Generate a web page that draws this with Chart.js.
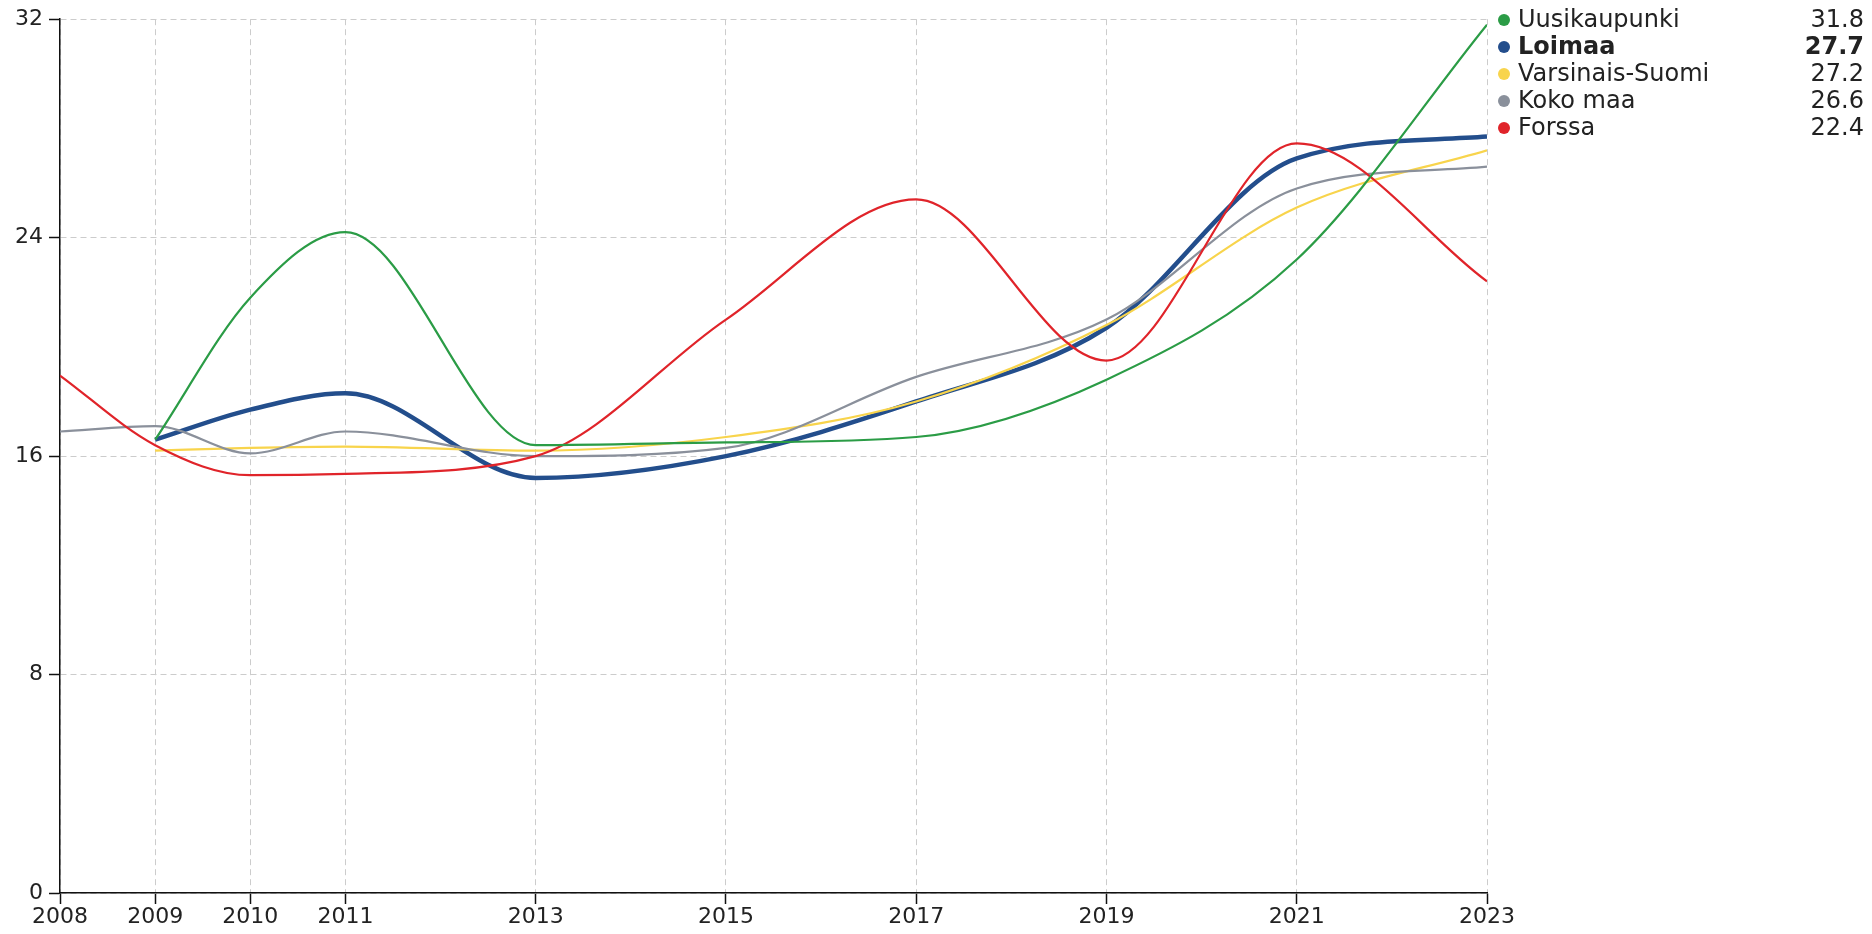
<!DOCTYPE html>
<html>
<head>
<meta charset="utf-8">
<script src="https://cdn.jsdelivr.net/npm/chart.js@4/dist/chart.umd.min.js"></script>
<style>
  html, body { margin: 0; padding: 0; background: #fff; }
  #wrap { width: 1872px; height: 934px; }
</style>
</head>
<body>
<div id="wrap"><canvas id="chart" width="1872" height="934"></canvas></div>
<script>
// Data
const years = [2008, 2009, 2010, 2011, 2013, 2015, 2017, 2019, 2021, 2023];
const yTicks = [0, 8, 16, 24, 32];

const seriesNames = ["Uusikaupunki", "Loimaa", "Varsinais-Suomi", "Koko maa", "Forssa"];
const seriesColors = ["#2b9c46", "#234e8c", "#f8d44c", "#8a909b", "#e0242a"];

const uusikaupunki = [null, 16.6, 21.8, 24.2, 16.4, 16.5, 16.7, 18.8, 23.2, 31.8];
const loimaa       = [null, 16.6, 17.7, 18.3, 15.2, 16.0, 18.0, 20.7, 26.9, 27.7];
const varsinais    = [null, 16.2, 16.3, 16.35, 16.2, 16.7, 18.0, 20.8, 25.1, 27.2];
const kokoMaa      = [16.9, 17.1, 16.1, 16.9, 16.0, 16.3, 18.9, 21.0, 25.8, 26.6];
const forssa       = [18.95, 16.4, 15.3, 15.35, 16.0, 21.0, 25.4, 19.5, 27.45, 22.4];

const seriesValues = [uusikaupunki, loimaa, varsinais, kokoMaa, forssa];
const highlighted = "Loimaa";
// drawing order: lower goes on top
const drawOrder = [0, 4, 3, 2, 1];

const FONT = "'DejaVu Sans', sans-serif";

function toPoints(vals) {
  return years.map((x, i) => ({ x: x, y: vals[i] })).filter(p => p.y !== null);
}

const datasets = seriesNames.map((name, i) => ({
  label: name,
  data: toPoints(seriesValues[i]),
  borderColor: seriesColors[i],
  backgroundColor: seriesColors[i],
  borderWidth: name === highlighted ? 4.5 : 2.2,
  pointRadius: 0,
  pointHoverRadius: 0,
  cubicInterpolationMode: "monotone",
  fill: false,
  order: drawOrder[i]
}));

// Legend on the right: dot, name, last value
const sideLegend = {
  id: "sideLegend",
  afterDraw(chart) {
    const ctx = chart.ctx;
    ctx.save();
    seriesNames.forEach((name, i) => {
      const y = 20 + i * 27;
      const bold = name === highlighted;
      ctx.fillStyle = seriesColors[i];
      ctx.beginPath();
      ctx.arc(1504, y, 6, 0, Math.PI * 2);
      ctx.fill();
      ctx.fillStyle = "#222";
      ctx.font = (bold ? "bold " : "") + "24px " + FONT;
      ctx.textBaseline = "middle";
      ctx.textAlign = "left";
      ctx.fillText(name, 1518, y + 1);
      const vals = seriesValues[i];
      const last = vals[vals.length - 1];
      ctx.textAlign = "right";
      ctx.fillText(last.toFixed(1), 1864, y + 1);
    });
    ctx.restore();
  }
};

const gridCommon = {
  color: "#cccccc",
  lineWidth: 1,
  tickColor: "#111",
  tickWidth: 1.5,
  tickLength: 11,
  tickBorderDash: []
};

new Chart(document.getElementById("chart"), {
  type: "line",
  data: { datasets: datasets },
  options: {
    responsive: false,
    animation: false,
    events: [],
    layout: { padding: { left: 0, top: 10, right: 385, bottom: 0 } },
    plugins: { legend: { display: false }, tooltip: { enabled: false } },
    scales: {
      x: {
        type: "linear",
        min: 2008,
        max: 2023,
        afterBuildTicks: s => { s.ticks = years.map(v => ({ value: v })); },
        afterFit: s => { s.height = 41; },
        ticks: {
          color: "#222",
          font: { family: FONT, size: 22 },
          padding: 0,
          maxRotation: 0,
          autoSkip: false,
          callback: v => String(v)
        },
        grid: gridCommon,
        border: { display: true, color: "#111", width: 1.5, dash: [6, 4] }
      },
      y: {
        min: 0,
        max: 32,
        afterBuildTicks: s => { s.ticks = yTicks.map(v => ({ value: v })); },
        afterFit: s => { s.width = 60; },
        ticks: {
          color: "#222",
          font: { family: FONT, size: 22 },
          padding: 6,
          callback: v => String(v)
        },
        grid: gridCommon,
        border: { display: true, color: "#111", width: 1.5, dash: [6, 4] }
      }
    }
  },
  plugins: [sideLegend]
});
</script>
</body>
</html>
